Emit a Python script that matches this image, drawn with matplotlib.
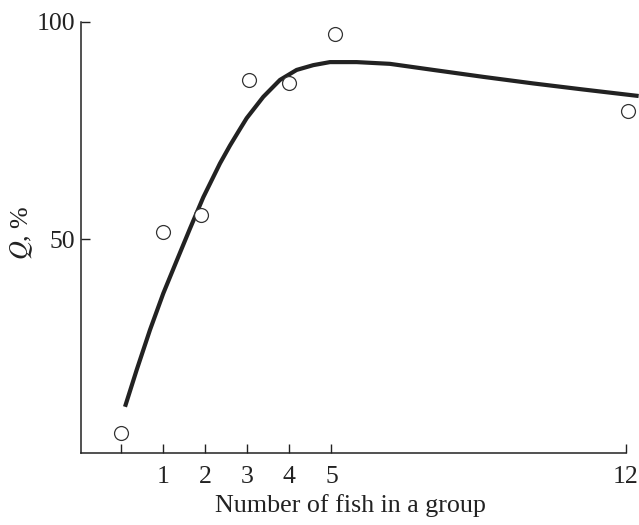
import numpy as np
import matplotlib.pyplot as plt

# measured points (open circles)
fish_n = [0, 1, 1.9, 3.05, 4, 5.08, 12.05]
q_obs = [5.3, 51.5, 55.5, 86.5, 86.0, 97.1, 79.5]

# fitted curve
curve_x = [0.095, 0.373, 0.689, 1.005, 1.323, 1.639, 1.955, 2.352, 2.589, 2.827,
           2.986, 3.38, 3.777, 4.173, 4.568, 4.964, 5.6, 6.39, 7.42, 8.61,
           9.79, 10.98, 12.3]
curve_y = [11.4, 19.9, 29.1, 37.5, 45.0, 52.4, 59.6, 67.4, 71.5, 75.3,
           77.8, 82.7, 86.6, 88.9, 90.0, 90.7, 90.7, 90.3, 88.9, 87.3,
           85.8, 84.4, 82.9]

xticks = [0, 1, 2, 3, 4, 5, 12]
xticklabels = ['', '1', '2', '3', '4', '5', '12']
yticks = [50, 100]

plt.rcParams['font.family'] = 'Liberation Serif'
plt.rcParams['mathtext.fontset'] = 'stix'

fig = plt.figure(figsize=(6.39, 5.25), dpi=100)
ax = fig.add_axes([0.1268, 0.1366, 0.8529, 0.8221])

ax.plot(curve_x, curve_y, color='#222222', lw=3, clip_on=False,
        solid_capstyle='butt', solid_joinstyle='round')
ax.plot(fish_n, q_obs, 'o', ms=10, mfc='white', mec='#333333', mew=0.9, clip_on=False)

ax.set_xlim(-0.95, 12)
ax.set_ylim(0.7, 100)
ax.spines['top'].set_visible(False)
ax.spines['right'].set_visible(False)
for s in ['left', 'bottom']:
    ax.spines[s].set_linewidth(1.1)
    ax.spines[s].set_color('#222222')

ax.set_xticks(xticks)
ax.set_xticklabels(xticklabels)
ax.set_yticks(yticks)
ax.tick_params(direction='in', length=6.5, width=1.0, labelsize=18.5, colors='#222222')
ax.tick_params(axis='x', pad=9)
ax.tick_params(axis='y', pad=4)

ax.set_xlabel('Number of fish in a group', fontsize=18.7, color='#222222')
ax.xaxis.set_label_coords(0.494, -0.095)
ax.set_ylabel('$Q$, %', fontsize=18.7, color='#222222')
ax.yaxis.set_label_coords(-0.085, 0.51)

fig.savefig('out.png', dpi=100)
